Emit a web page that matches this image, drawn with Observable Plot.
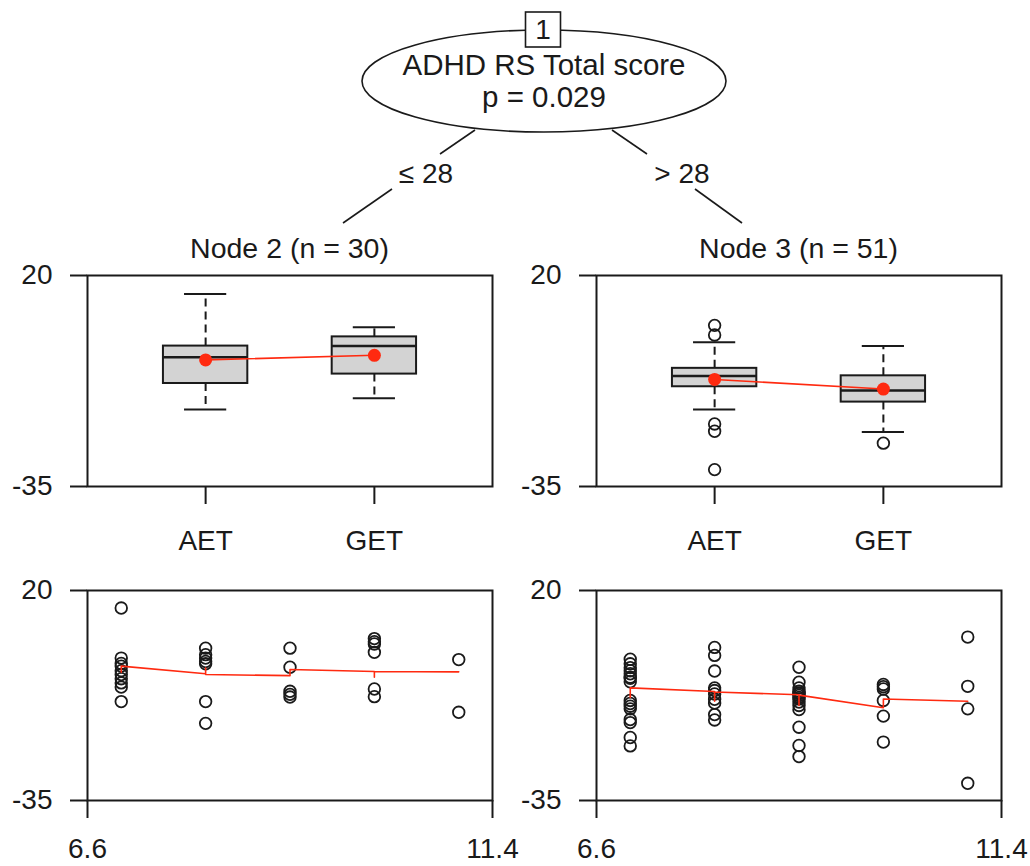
<!DOCTYPE html>
<html>
<head>
<meta charset="utf-8">
<script src="https://cdn.jsdelivr.net/npm/d3@7"></script>
<script src="https://cdn.jsdelivr.net/npm/@observablehq/plot@0.6"></script>
<style>
  html, body { margin: 0; padding: 0; background: #fff; }
  #chart { position: relative; width: 1030px; height: 866px; background: #fff;
           font-family: "Liberation Sans", Arial, sans-serif; color: #111; }
</style>
</head>
<body>
<div id="chart"></div>
<script>
// ---------------- data ----------------
const groups = ["AET", "GET"];
const splitVariable = "ADHD RS Total score";
const splitP = "p = 0.029";
const splitLabels = ["\u2264 28", "> 28"];
const nodeTitles = ["Node 2 (n = 30)", "Node 3 (n = 51)"];
const yTicks = [-35, 20];
const ageTicks = [6.6, 11.4];

// boxplot summaries: lower whisker, q1, median, q3, upper whisker, mean
const node2Box = [
  {group: "AET", lo: -14.9, q1: -8.15, med: -1.3, q3: 1.6, hi: 15.2, mean: -2.0},
  {group: "GET", lo: -12.0, q1: -5.7, med: 1.6, q3: 4.0, hi: 6.5, mean: -0.8}
];
const node3Box = [
  {group: "AET", lo: -14.9, q1: -9.0, med: -6.2, q3: -4.2, hi: 2.6, mean: -7.1},
  {group: "GET", lo: -20.8, q1: -13.0, med: -10.0, q3: -6.15, hi: 1.6, mean: -9.6}
];
const node2Outliers = [];
const node3Outliers = [
  {group: "AET", value: 7.0}, {group: "AET", value: 4.5},
  {group: "AET", value: -18.7}, {group: "AET", value: -20.6},
  {group: "AET", value: -30.6}, {group: "GET", value: -23.7}
];

// scatter: [age, score]
const node2Points = [
  [7, 15.4], [7, 2.3], [7, 0.9], [7, 0.2], [7, -1.0], [7, -2.0], [7, -3.1], [7, -4.2], [7, -5.3], [7, -9.1],
  [8, 4.9], [8, 3.2], [8, 2.3], [8, 1.4], [8, 0.8], [8, -9.1], [8, -14.8],
  [9, 4.9], [9, -0.1], [9, -6.4], [9, -7.2], [9, -7.9],
  [10, 7.4], [10, 6.6], [10, 6.0], [10, 3.8], [10, -5.8], [10, -7.8],
  [11, 1.9], [11, -11.9]
];
const node3Points = [
  [7, 2.0], [7, 0.8], [7, -0.2], [7, -1.0], [7, -1.8], [7, -2.7], [7, -3.0], [7, -3.9], [7, -8.8], [7, -9.6],
  [7, -10.3], [7, -11.0], [7, -13.8], [7, -14.6], [7, -18.5], [7, -20.7],
  [8, 5.1], [8, 3.0], [8, -1.1], [8, -5.5], [8, -6.2], [8, -7.1], [8, -8.5], [8, -9.5], [8, -12.5], [8, -13.9],
  [9, -0.1], [9, -4.0], [9, -5.5], [9, -6.4], [9, -6.8], [9, -7.0], [9, -7.5], [9, -8.0], [9, -8.4], [9, -9.2],
  [9, -10.1], [9, -11.2], [9, -15.8], [9, -20.6], [9, -23.5],
  [10, -4.6], [10, -5.2], [10, -5.8], [10, -8.8], [10, -12.9], [10, -19.7],
  [11, 7.8], [11, -5.1], [11, -11.0], [11, -30.5]
];
// fitted values (sorted by age) drawn as the red line
const node2Fit = [[7, -1.4], [7, 0.2], [8, -1.8], [8, -0.3], [8, -2.0], [9, -2.3], [9, -0.7], [10, -1.2], [10, -2.7], [10, -1.2], [11, -1.3]];
const node3Fit = [[7, -8.0], [7, -5.5], [8, -6.45], [8, -9.0], [8, -6.6], [9, -7.3], [9, -10.1], [9, -7.4], [10, -10.7], [10, -8.4], [11, -9.0]];

// ---------------- layout / style ----------------
const FONT = '"Liberation Sans", Arial, sans-serif';
const FS = 28;
const INK = "#1a1a1a";
const RED = "#ff2a10";
const chart = document.getElementById("chart");
const panelStyle = {background: "transparent", overflow: "visible", fontFamily: FONT, fontSize: FS + "px", color: INK};

function yAxis() {
  return Plot.axisY({ticks: yTicks, tickFormat: d => String(d), tickSize: 17, tickPadding: 18,
    strokeWidth: 2, fontSize: FS, label: null});
}

function boxPanel(stats, outliers) {
  const pos = d => groups.indexOf(d.group) + 1;
  return Plot.plot({
    width: 521, height: 311, marginLeft: 87, marginRight: 29, marginTop: 20, marginBottom: 80,
    style: panelStyle,
    x: {domain: [0.3, 2.7], axis: null},
    y: {domain: [-35, 20], axis: null},
    marks: [
      yAxis(),
      Plot.axisX({ticks: [1, 2], tickFormat: d => groups[d - 1], tickSize: 18, tickPadding: 26,
        strokeWidth: 2, fontSize: FS, label: null}),
      Plot.ruleX(stats, {x: pos, y1: "q3", y2: "hi", stroke: INK, strokeWidth: 2, strokeDasharray: "8,5"}),
      Plot.ruleX(stats, {x: pos, y1: "q1", y2: "lo", stroke: INK, strokeWidth: 2, strokeDasharray: "8,5"}),
      Plot.ruleY(stats, {y: "hi", x1: d => pos(d) - 0.125, x2: d => pos(d) + 0.125, stroke: INK, strokeWidth: 2}),
      Plot.ruleY(stats, {y: "lo", x1: d => pos(d) - 0.125, x2: d => pos(d) + 0.125, stroke: INK, strokeWidth: 2}),
      Plot.rect(stats, {x1: d => pos(d) - 0.25, x2: d => pos(d) + 0.25, y1: "q1", y2: "q3",
        fill: "#d3d3d3", stroke: INK, strokeWidth: 2}),
      Plot.ruleY(stats, {y: "med", x1: d => pos(d) - 0.25, x2: d => pos(d) + 0.25, stroke: INK, strokeWidth: 2.5}),
      Plot.dot(outliers, {x: pos, y: "value", r: 5.8, stroke: INK, strokeWidth: 1.8, fill: "none"}),
      Plot.line(stats, {x: pos, y: "mean", stroke: RED, strokeWidth: 1.6}),
      Plot.dot(stats, {x: pos, y: "mean", r: 6.5, fill: RED, stroke: "none"}),
      Plot.frame({stroke: INK, strokeWidth: 2})
    ]
  });
}

function scatterPanel(points, fit) {
  return Plot.plot({
    width: 521, height: 296, marginLeft: 87, marginRight: 29, marginTop: 20, marginBottom: 66,
    style: panelStyle,
    x: {domain: [6.6, 11.4], axis: null},
    y: {domain: [-35, 20], axis: null},
    marks: [
      yAxis(),
      Plot.axisX({ticks: ageTicks, tickFormat: d => d.toFixed(1), tickSize: 18, tickPadding: 20,
        strokeWidth: 2, fontSize: FS, label: null}),
      Plot.dot(points, {x: d => d[0], y: d => d[1], r: 5.8, stroke: INK, strokeWidth: 1.8, fill: "none"}),
      Plot.line(fit, {x: d => d[0], y: d => d[1], stroke: RED, strokeWidth: 1.6, curve: "linear"}),
      Plot.frame({stroke: INK, strokeWidth: 2})
    ]
  });
}

function place(el, left, top) {
  el.style.position = "absolute";
  el.style.left = left + "px";
  el.style.top = top + "px";
  chart.appendChild(el);
}

const leftX = 0, rightX = 509;
place(boxPanel(node2Box, node2Outliers), leftX, 255);
place(boxPanel(node3Box, node3Outliers), rightX, 255);
place(scatterPanel(node2Points, node2Fit), leftX, 570);
place(scatterPanel(node3Points, node3Fit), rightX, 570);

// ---------------- tree decoration ----------------
const tree = d3.create("svg").attr("width", 1030).attr("height", 270)
  .style("position", "absolute").style("left", "0px").style("top", "0px")
  .style("font-family", FONT).style("font-size", FS + "px").attr("fill", INK);

const cx = 544, cy = 81, rx = 182, ry = 51;
const segs = [
  [475, 130, 440, 154], [392, 189, 343, 223],
  [612, 130, 647, 154], [695, 189, 742, 223]
];
tree.selectAll("line").data(segs).join("line")
  .attr("x1", d => d[0]).attr("y1", d => d[1]).attr("x2", d => d[2]).attr("y2", d => d[3])
  .attr("stroke", INK).attr("stroke-width", 1.6);
tree.append("ellipse").attr("cx", cx).attr("cy", cy).attr("rx", rx).attr("ry", ry)
  .attr("fill", "#fff").attr("stroke", INK).attr("stroke-width", 1.6);
tree.append("rect").attr("x", cx - 18.5).attr("y", 12).attr("width", 35).attr("height", 35)
  .attr("fill", "#fff").attr("stroke", INK).attr("stroke-width", 1.6);
tree.append("text").attr("x", cx - 1).attr("y", 29.5).attr("dy", "0.35em").attr("text-anchor", "middle").text("1");
tree.append("text").attr("x", cx).attr("y", 65).attr("dy", "0.35em").attr("text-anchor", "middle")
  .style("font-size", "29.5px").text(splitVariable);
tree.append("text").attr("x", cx).attr("y", 97).attr("dy", "0.35em").attr("text-anchor", "middle")
  .style("font-size", "29.5px").text(splitP);
tree.append("text").attr("x", 426).attr("y", 173).attr("dy", "0.35em").attr("text-anchor", "middle").text(splitLabels[0]);
tree.append("text").attr("x", 682).attr("y", 173).attr("dy", "0.35em").attr("text-anchor", "middle").text(splitLabels[1]);
tree.append("text").attr("x", leftX + 87 + 202.5).attr("y", 248).attr("dy", "0.35em").attr("text-anchor", "middle")
  .style("font-size", "28.5px").text(nodeTitles[0]);
tree.append("text").attr("x", rightX + 87 + 202.5).attr("y", 248).attr("dy", "0.35em").attr("text-anchor", "middle")
  .style("font-size", "28.5px").text(nodeTitles[1]);
chart.appendChild(tree.node());
</script>
</body>
</html>
